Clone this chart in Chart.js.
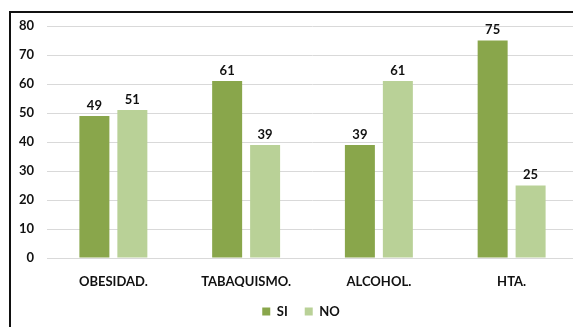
<!DOCTYPE html>
<html>
<head>
<meta charset="utf-8">
<script src="https://cdn.jsdelivr.net/npm/chart.js@4"></script>
<style>
  html, body { margin: 0; padding: 0; background: #fff; overflow: hidden; width: 573px; height: 327px; }
  #wrap { position: absolute; left: 0; top: 0; width: 580px; height: 327px; }
  #frame { position: absolute; left: 9px; top: 11px; width: 600px; height: 400px;
           border-left: 2px solid #111; border-top: 2px solid #111; pointer-events: none; }
</style>
</head>
<body>
<div id="wrap"><canvas id="c" width="580" height="327"></canvas></div>
<div id="frame"></div>
<script>
const categories = ['OBESIDAD.', 'TABAQUISMO.', 'ALCOHOL.', 'HTA.'];
const siValues = [49, 61, 39, 75];
const noValues = [51, 39, 61, 25];
const yTicks = [0, 10, 20, 30, 40, 50, 60, 70, 80];

const FONT = 'Lato, "Open Sans", sans-serif';
const PLOT_BOTTOM = 258;

// value labels above each bar
const barValues = {
  id: 'barValues',
  afterDatasetsDraw(chart) {
    const ctx = chart.ctx;
    ctx.save();
    ctx.font = 'bold 13px ' + FONT;
    ctx.fillStyle = '#111';
    ctx.textAlign = 'center';
    ctx.textBaseline = 'bottom';
    chart.data.datasets.forEach((ds, i) => {
      chart.getDatasetMeta(i).data.forEach((bar, j) => {
        ctx.fillText(String(ds.data[j]), bar.x, bar.y - 4);
      });
    });
    ctx.restore();
  }
};

// legend sits centred under the plot area, a little lower
const legendShift = {
  id: 'legendShift',
  beforeDraw(chart) {
    const lg = chart.legend;
    if (lg) { lg.left = 22; lg.right = 580; lg.top = 288; }
  }
};

new Chart(document.getElementById('c'), {
  type: 'bar',
  data: {
    labels: categories,
    datasets: [
      { label: 'SI', data: siValues, backgroundColor: '#89a64b' },
      { label: 'NO', data: noValues, backgroundColor: '#b9d197' }
    ]
  },
  options: {
    responsive: false,
    animation: false,
    events: [],
    layout: { padding: { left: 0, right: 2, top: 26, bottom: 0 } },
    datasets: { bar: { categoryPercentage: 0.572, barPercentage: 0.79 } },
    plugins: {
      tooltip: { enabled: false },
      legend: {
        position: 'bottom',
        labels: {
          boxWidth: 8, boxHeight: 8, padding: 17,
          color: '#111',
          font: { family: FONT, size: 13, weight: 'bold' }
        }
      }
    },
    scales: {
      x: {
        grid: { display: false, drawTicks: false },
        border: { display: true, color: '#d9d9d9' },
        ticks: { color: '#111', padding: 16, font: { family: FONT, size: 13, weight: 'bold' } },
        afterFit(s) {
          const lh = s.chart.legend ? s.chart.legend.height : 45;
          s.height = 327 - PLOT_BOTTOM - lh;
        }
      },
      y: {
        min: 0, max: 80,
        afterBuildTicks(s) { s.ticks = yTicks.map(v => ({ value: v })); },
        grid: { color: '#d9d9d9', drawTicks: false },
        border: { display: false },
        ticks: { color: '#111', padding: 13, font: { family: FONT, size: 13, weight: 'bold' } },
        afterFit(s) { s.width = 47; }
      }
    }
  },
  plugins: [barValues, legendShift]
});
</script>
</body>
</html>
